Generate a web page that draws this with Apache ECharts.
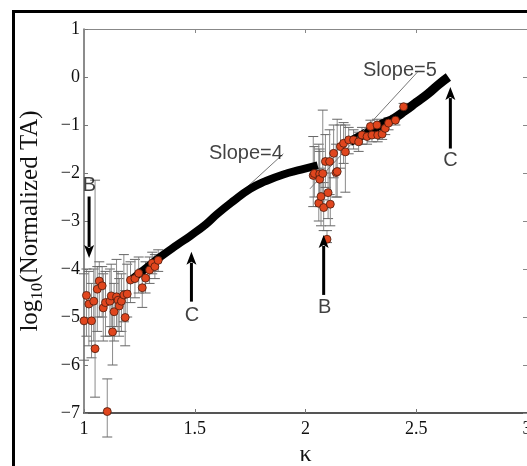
<!DOCTYPE html>
<html>
<head>
<meta charset="utf-8">
<script src="https://cdn.jsdelivr.net/npm/echarts@6/dist/echarts.min.js"></script>
<style>html,body{margin:0;padding:0;background:#fff;overflow:hidden}#c{width:527px;height:466px}</style>
</head>
<body>
<div id="c"></div>
<script>
// ---- data ----
const xTicks = [1, 1.5, 2, 2.5, 3];
const yTicks = [1, 0, -1, -2, -3, -4, -5, -6, -7];

// red measured points (kappa, log10 TA) with error bar ends
const ptK = [1.000,1.011,1.022,1.034,1.044,1.050,1.060,1.069,1.082,1.087,1.097,1.105,1.117,1.123,1.129,1.136,1.147,1.154,1.159,1.169,1.180,1.186,1.195,1.210,1.230,1.247,1.263,1.278,1.296,1.308,1.320,1.335,
  2.035,2.040,2.060,2.064,2.064,2.070,2.078,2.082,2.097,2.102,2.112,2.090,2.109,2.127,2.138,2.143,2.158,2.172,2.180,2.195,2.217,2.240,2.255,2.278,2.300,2.293,2.323,2.326,2.346,2.360,2.375,2.406,2.443];
const ptY = [-5.08,-4.55,-4.73,-5.08,-4.67,-5.66,-4.42,-4.25,-4.35,-4.81,-4.70,-6.97,-4.67,-4.56,-5.31,-4.89,-4.58,-4.65,-4.77,-4.67,-4.54,-5.01,-4.52,-4.23,-4.20,-4.09,-4.39,-4.19,-4.02,-3.88,-3.95,-3.82,
  -2.05,-2.01,-2.63,-2.02,-2.13,-2.49,-2.01,-2.72,-3.38,-2.41,-2.65,-1.76,-1.76,-1.59,-1.99,-1.97,-1.45,-1.38,-1.56,-1.31,-1.31,-1.35,-1.21,-1.24,-1.21,-1.03,-1.00,-1.21,-1.19,-1.07,-0.96,-0.90,-0.62];
const errLo = [-5.90,-5.40,-5.60,-5.85,-5.50,-6.67,-5.30,-5.00,-5.00,-5.50,-5.40,-7.50,-5.40,-5.20,-6.00,-5.50,-5.20,-5.30,-5.40,-5.30,-5.10,-5.60,-5.00,-4.70,-4.60,-4.50,-4.80,-4.50,-4.30,-4.10,-4.20,-4.05,
  -2.70,-2.50,-3.00,-2.60,-2.70,-3.10,-2.56,-3.20,-3.45,-2.95,-3.10,-2.30,-2.45,-2.10,-2.50,-2.50,-1.90,-1.80,-2.40,-1.60,-1.50,-1.55,-1.40,-1.40,-1.35,-1.20,-1.15,-1.35,-1.30,-1.20,-1.10,-1.00,-0.70];
const errHi = [-4.10,-4.00,-4.05,-4.30,-4.00,-2.15,-3.95,-3.85,-3.95,-4.10,-4.05,-6.29,-4.00,-3.90,-4.70,-4.30,-3.80,-4.05,-4.20,-4.10,-3.70,-4.45,-3.90,-3.85,-3.80,-3.75,-4.00,-3.85,-3.75,-3.65,-3.70,-3.60,
  -1.24,-1.45,-1.40,-1.50,-1.55,-1.90,-0.69,-2.20,-3.20,-1.75,-2.00,-1.20,-1.10,-1.00,-1.40,-0.88,-1.00,-0.95,-1.00,-1.05,-1.10,-1.15,-1.05,-1.10,-1.05,-0.90,-0.88,-1.08,-1.05,-0.95,-0.85,-0.80,-0.55];

// thick black model curve (two branches)
const band1K = [1.22,1.28,1.35,1.42,1.48,1.55,1.60,1.67,1.75,1.82,1.90,1.98,2.055];
const band1Y = [-4.20,-3.98,-3.73,-3.50,-3.31,-3.07,-2.86,-2.60,-2.33,-2.17,-2.03,-1.93,-1.84];
const band2K = [2.20,2.28,2.35,2.40,2.45,2.50,2.55,2.60,2.645];
const band2Y = [-1.35,-1.15,-0.97,-0.86,-0.70,-0.53,-0.36,-0.16,0.00];

// slope guide lines
const slope4K = [1.58, 1.90], slope4Y = [-2.95, -1.60];
const slope5K = [2.02, 2.505], slope5Y = [-2.33, 0.10];

// arrows and annotation labels
const arrowK = [1.023, 1.485, 2.082, 2.654];
const arrowFrom = [-2.49, -4.68, -4.54, -1.49];
const arrowTo = [-3.77, -3.64, -3.29, -0.21];
const noteText = ['Slope=4', 'Slope=5', 'B', 'C', 'B', 'C'];
const noteK = [1.731, 2.426, 1.024, 1.488, 2.086, 2.654];
const noteY = [-1.59, 0.135, -2.25, -4.96, -4.81, -1.74];

// ---- chart ----
const zip = (a, b) => a.map((v, i) => [v, b[i]]);
const chart = echarts.init(document.getElementById('c'), null, {renderer: 'canvas'});
const serif = '"Liberation Serif", "Times New Roman", serif';
const sans = '"Liberation Sans", Arial, sans-serif';
const fmtNum = v => String(v).replace('-', '\u2212');

const option = {
  animation: false,
  backgroundColor: '#fff',
  grid: {left: 84, right: 0, top: 29, bottom: 53, containLabel: false, outerBoundsMode: 'none'},
  xAxis: [{
    type: 'value', min: 1, max: 3, interval: 0.5,
    name: '\u03ba', nameLocation: 'middle', nameGap: 24,
    nameTextStyle: {fontFamily: serif, fontSize: 24, color: '#111'},
    axisLine: {onZero: false, lineStyle: {color: '#555', width: 2}},
    axisTick: {inside: true, length: 4, lineStyle: {color: '#777'}},
    axisLabel: {fontFamily: serif, fontSize: 18, color: '#111', margin: 7, formatter: fmtNum},
    splitLine: {show: false}
  }, {
    type: 'value', min: 1, max: 3, interval: 0.5, position: 'top',
    axisLine: {onZero: false, lineStyle: {color: '#888', width: 1}},
    axisTick: {inside: true, length: 4, lineStyle: {color: '#888'}},
    axisLabel: {show: false}, splitLine: {show: false}
  }],
  yAxis: [{
    type: 'value', min: -7, max: 1, interval: 1,
    name: '{a|log}{s|10}{a|(Normalized TA)}', nameLocation: 'middle', nameGap: 39,
    nameTextStyle: {
      rich: {
        a: {fontFamily: serif, fontSize: 25, color: '#111', lineHeight: 30},
        s: {fontFamily: serif, fontSize: 17, color: '#111', lineHeight: 30, padding: [16, 0, 0, 0]}
      }
    },
    axisLine: {onZero: false, lineStyle: {color: '#666', width: 1.5}},
    axisTick: {inside: true, length: 4, lineStyle: {color: '#777'}},
    axisLabel: {fontFamily: serif, fontSize: 18, color: '#111', margin: 4, formatter: fmtNum},
    splitLine: {show: false}
  }, {
    type: 'value', min: -7, max: 1, interval: 1, position: 'right',
    axisLine: {onZero: false, lineStyle: {color: '#888', width: 1}},
    axisTick: {inside: true, length: 4, lineStyle: {color: '#888'}},
    axisLabel: {show: false}, splitLine: {show: false}
  }],
  graphic: [{
    type: 'rect', z: 100, silent: true,
    shape: {x: 13.5, y: 11.5, width: 700, height: 700},
    style: {fill: 'none', stroke: '#000', lineWidth: 3}
  }],
  series: [
    {
      type: 'custom', name: 'err', z: 1,
      data: ptK.map((k, i) => [k, errLo[i], errHi[i]]),
      renderItem: (params, api) => {
        const lo = api.coord([api.value(0), api.value(1)]);
        const hi = api.coord([api.value(0), api.value(2)]);
        const w = 5;
        const st = {stroke: '#8a8a8a', lineWidth: 1};
        return {type: 'group', children: [
          {type: 'line', shape: {x1: lo[0], y1: lo[1], x2: hi[0], y2: hi[1]}, style: st},
          {type: 'line', shape: {x1: lo[0] - w, y1: lo[1], x2: lo[0] + w, y2: lo[1]}, style: {stroke: '#666', lineWidth: 1}},
          {type: 'line', shape: {x1: hi[0] - w, y1: hi[1], x2: hi[0] + w, y2: hi[1]}, style: {stroke: '#666', lineWidth: 1}}
        ]};
      }
    },
    {type: 'line', z: 2, data: zip(band1K, band1Y), smooth: true, showSymbol: false,
      lineStyle: {color: '#000', width: 8, cap: 'butt'}},
    {type: 'line', z: 2, data: zip(band2K, band2Y), smooth: true, showSymbol: false,
      lineStyle: {color: '#000', width: 9, cap: 'butt'}},
    {type: 'line', z: 1, data: zip(slope4K, slope4Y), showSymbol: false,
      lineStyle: {color: '#777', width: 1}},
    {type: 'line', z: 3, data: zip(slope5K, slope5Y), showSymbol: false,
      lineStyle: {color: '#777', width: 1}},
    {type: 'scatter', z: 4, data: zip(ptK, ptY), symbol: 'circle', symbolSize: 8,
      itemStyle: {color: '#e0461e', borderColor: '#4a1a0c', borderWidth: 0.8, opacity: 1}},
    {
      type: 'custom', name: 'arrows', z: 5,
      data: arrowK.map((k, i) => [k, arrowFrom[i], arrowTo[i]]),
      renderItem: (params, api) => {
        const a = api.coord([api.value(0), api.value(1)]);
        const b = api.coord([api.value(0), api.value(2)]);
        const dir = b[1] > a[1] ? 1 : -1;
        const hl = 13, hw = 5;
        return {type: 'group', children: [
          {type: 'line', shape: {x1: a[0], y1: a[1], x2: b[0], y2: b[1] - dir * (hl - 2)}, style: {stroke: '#000', lineWidth: 3}},
          {type: 'polygon', shape: {points: [[b[0], b[1]], [b[0] - hw, b[1] - dir * hl], [b[0], b[1] - dir * (hl - 3)], [b[0] + hw, b[1] - dir * hl]]}, style: {fill: '#000'}}
        ]};
      }
    },
    {type: 'scatter', z: 6, data: zip(noteK, noteY), symbolSize: 0,
      label: {show: true, position: 'inside', formatter: p => noteText[p.dataIndex],
        fontFamily: sans, fontSize: 20, color: '#111'}}
  ]
};
chart.setOption(option);
</script>
</body>
</html>
